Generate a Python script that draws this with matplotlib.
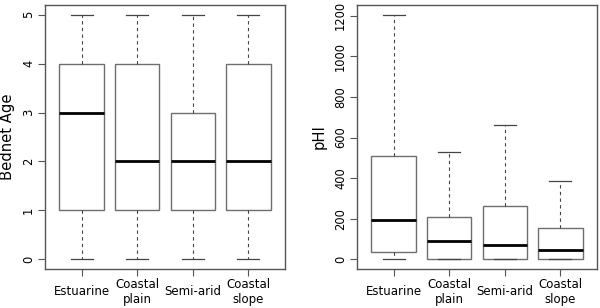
import matplotlib
matplotlib.use("Agg")
import matplotlib.pyplot as plt

plt.rcParams['font.family'] = ['DejaVu Sans']

categories = ["Estuarine", "Coastal\nplain", "Semi-arid", "Coastal\nslope"]

# Bednet Age box statistics
age_min = [0, 0, 0, 0]
age_q1 = [1, 1, 1, 1]
age_med = [3, 2, 2, 2]
age_q3 = [4, 4, 3, 4]
age_max = [5, 5, 5, 5]

# pHI box statistics
phi_min = [0, 0, 0, 0]
phi_q1 = [38, 0, 0, 0]
phi_med = [195, 89, 71, 43]
phi_q3 = [508, 210, 263, 152]
phi_max = [1205, 528, 663, 384]

age_ticks = [0, 1, 2, 3, 4, 5]
phi_ticks = [0, 200, 400, 600, 800, 1000, 1200]

fig = plt.figure(figsize=(6.0, 3.08), dpi=100)
ax1 = fig.add_axes([45/600, 1-269/308, 240/600, 264/308])
ax2 = fig.add_axes([357/600, 1-269/308, 240/600, 264/308])

frame_col = "#555555"
box_col = "#6e6e6e"


def draw(ax, mins, q1s, meds, q3s, maxs, ticks, label):
    stats = []
    for lo, a, m, b, hi in zip(mins, q1s, meds, q3s, maxs):
        stats.append(dict(whislo=lo, q1=a, med=m, q3=b, whishi=hi, fliers=[]))
    pos = list(range(1, len(stats) + 1))
    ax.bxp(stats, positions=pos, widths=0.8, showfliers=False, patch_artist=True,
           boxprops=dict(facecolor="white", edgecolor=box_col, linewidth=1.0),
           medianprops=dict(color="black", linewidth=2.0),
           whiskerprops=dict(color="#444444", linewidth=0.8, linestyle=(0, (3, 3))),
           capprops=dict(color="#444444", linewidth=0.9), capwidths=0.4)
    lo = min(mins); hi = max(maxs)
    ext = (hi - lo) * 0.04
    ax.set_ylim(lo - ext, hi + ext)
    ax.set_xlim(0.5 - 0.16, len(stats) + 0.5 + 0.16)
    ax.set_yticks(ticks)
    ax.set_yticklabels([str(t) for t in ticks], rotation=90, va='center')
    ax.set_xticks(pos)
    ax.set_xticklabels(categories, va='center', linespacing=1.2)
    ax.tick_params(axis='x', length=5, pad=11.5, labelsize=8.5, color=frame_col)
    ax.tick_params(axis='y', length=5, pad=2.2, labelsize=8.3, color=frame_col)
    for s in ax.spines.values():
        s.set_color(frame_col)
        s.set_linewidth(1.0)
    ax.set_ylabel(label, fontsize=10.6)
    ax.yaxis.set_label_coords(-0.126, 0.5)


draw(ax1, age_min, age_q1, age_med, age_q3, age_max, age_ticks, "Bednet Age")
draw(ax2, phi_min, phi_q1, phi_med, phi_q3, phi_max, phi_ticks, "pHI")

fig.savefig("out.png", dpi=100)
